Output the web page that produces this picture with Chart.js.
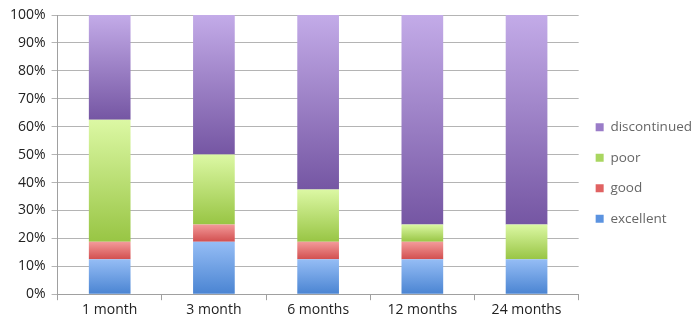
<!DOCTYPE html>
<html><head><meta charset="utf-8">
<script src="https://cdn.jsdelivr.net/npm/chart.js@4/dist/chart.umd.min.js"></script>
<style>html,body{margin:0;padding:0;background:#fff}#wrap{width:700px;height:334px}</style>
</head><body><div id="wrap"><canvas id="c" width="700" height="334"></canvas></div>
<script>
const categories = ["1 month", "3 month", "6 months", "12 months", "24 months"];
const excellent = [12.5, 18.75, 12.5, 12.5, 12.5];
const good = [6.25, 6.25, 6.25, 6.25, 0];
const poor = [43.75, 25, 18.75, 6.25, 12.5];
const discontinued = [37.5, 50, 62.5, 75, 75];
const yTicks = [0,10,20,30,40,50,60,70,80,90,100];

const seriesList = [
  {label:"excellent", data:excellent, top:"#95bdf5", bot:"#4a84d2", sw:"#5b93e0"},
  {label:"good", data:good, top:"#f39a9a", bot:"#d24f4f", sw:"#e06262"},
  {label:"poor", data:poor, top:"#dcf8a4", bot:"#98c544", sw:"#a9d660"},
  {label:"discontinued", data:discontinued, top:"#c3abe8", bot:"#7556a3", sw:"#9a7cc8"}
];

function gradFor(si){
  return function(ctx){
    const chart = ctx.chart;
    const y = chart.scales.y;
    if(!y || ctx.dataIndex===undefined) return seriesList[si].sw;
    let base = 0;
    for(let k=0;k<si;k++) base += seriesList[k].data[ctx.dataIndex];
    const topV = base + seriesList[si].data[ctx.dataIndex];
    const y0 = y.getPixelForValue(base), y1 = y.getPixelForValue(topV);
    if(!isFinite(y0)||!isFinite(y1)||y0===y1) return seriesList[si].sw;
    const g = chart.ctx.createLinearGradient(0,y1,0,y0);
    g.addColorStop(0, seriesList[si].top);
    g.addColorStop(1, seriesList[si].bot);
    return g;
  };
}

const datasets = seriesList.map((s,i)=>({
  label:s.label, data:s.data, backgroundColor:gradFor(i), borderWidth:0,
  categoryPercentage:1, barPercentage:0.4
}));

new Chart(document.getElementById('c'), {
  type:'bar',
  data:{labels:categories, datasets},
  options:{
    responsive:false, animation:false, maintainAspectRatio:false,
    layout:{padding:{top:15,right:-2,left:4,bottom:15}},
    plugins:{
      tooltip:{enabled:false},
      legend:{
        position:'right',
        title:{display:true, text:' ', font:{size:1}, padding:{top:11,bottom:0}},
        labels:{
          font:{family:"Open Sans", size:13.5}, color:"#222",
          boxWidth:8, boxHeight:8, padding:17,
          generateLabels(chart){
            return seriesList.map((s,i)=>({text:s.label, fillStyle:s.sw, strokeStyle:s.sw, lineWidth:0, datasetIndex:i, hidden:false})).reverse();
          }
        }
      }
    },
    scales:{
      x:{stacked:true,
        grid:{display:true, drawOnChartArea:false, drawTicks:true, tickLength:6, color:"#a0a0a0", offset:true},
        border:{color:"#a0a0a0"},
        ticks:{font:{family:"Open Sans", size:14}, color:"#222", padding:1}
      },
      y:{stacked:true, min:0, max:100,
        afterBuildTicks(ax){ax.ticks = yTicks.map(v=>({value:v}));},
        grid:{color:"#b4b4b4", drawTicks:true, tickLength:6},
        border:{color:"#a0a0a0"},
        ticks:{font:{family:"Open Sans", size:14}, color:"#222", callback:v=>v+"%", padding:6}
      }
    }
  }
});
</script></body></html>
